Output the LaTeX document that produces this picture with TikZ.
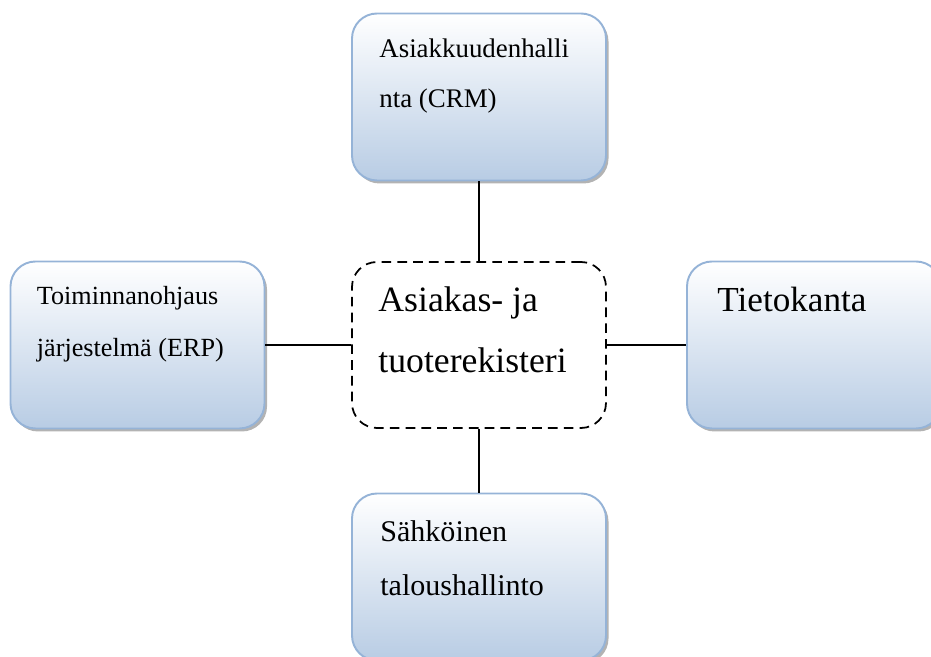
\documentclass[tikz,border=0pt]{standalone}
\usepackage{fontspec}
\setmainfont{Liberation Serif}
\usepackage{tikz}
\usetikzlibrary{shadows}

\definecolor{boxline}{HTML}{95B3D7}
\definecolor{boxfill}{HTML}{B8CCE4}

\tikzset{
  box/.style={rectangle, rounded corners=0.5cm, draw=boxline, line width=1.1pt,
    top color=white, bottom color=boxfill, minimum width=5.08cm, minimum height=3.34cm,
    drop shadow={shadow xshift=0.05cm, shadow yshift=-0.06cm, fill=black!50, opacity=.6}},
  hubbox/.style={rectangle, rounded corners=0.5cm, draw=black, line width=1pt,
    dash pattern=on 5.5pt off 3.5pt, minimum width=5.08cm, minimum height=3.32cm},
  lbl/.style={inner sep=0pt, anchor=north west, align=left},
  link/.style={draw=black, line width=0.8pt}
}

\begin{document}
\begin{tikzpicture}
    \useasboundingbox (0,0) rectangle (18.62,13.14);

    \node (crm)   at (9.58, 11.2) [box] {};
    \node (erp)   at (2.75, 6.24) [box] {};
    \node (hub)   at (9.58, 6.24) [hubbox] {};
    \node (db)    at (16.28, 6.24) [box] {};
    \node (sales) at (9.58, 1.6) [box] {};

    % texts sit in the upper left corner of each box
    \node (crmtext) [lbl, font={\fontsize{15.3}{28.5}\selectfont}]
      at ([shift={(0.56,-0.51)}]crm.north west) {Asiakkuudenhalli\\nta (CRM)};
    \node (erptext) [lbl, font={\fontsize{14.9}{29.6}\selectfont}]
      at ([shift={(0.54,-0.50)}]erp.north west) {Toiminnanohjaus\\järjestelmä (ERP)};
    \node (hubtext) [lbl, font={\fontsize{20.3}{34.7}\selectfont}]
      at ([shift={(0.54,-0.51)}]hub.north west) {Asiakas- ja\\tuoterekisteri};
    \node (dbtext) [lbl, font={\fontsize{20}{30}\selectfont}]
      at ([shift={(0.62,-0.52)}]db.north west) {Tietokanta};
    \node (salestext) [lbl, font={\fontsize{17.1}{30.7}\selectfont}]
      at ([shift={(0.58,-0.55)}]sales.north west) {Sähköinen\\taloushallinto};

    \draw [link] (crm) -- (hub);
    \draw [link] (hub) -- (sales);
    \draw [link] (erp) -- (hub);
    \draw [link] (hub) -- (db);
\end{tikzpicture}
\end{document}
